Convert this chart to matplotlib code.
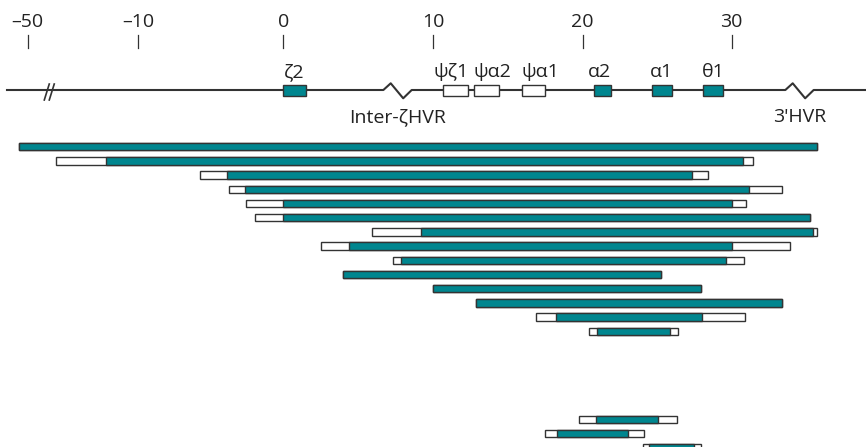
import numpy as np
import matplotlib.pyplot as plt
from matplotlib.scale import FuncScale

plt.rcParams['font.family'] = ['Open Sans', 'DejaVu Sans']

# map scale (kb) with the compressed stretch left of -10
tick_kb = [-50, -10, 0, 10, 20, 30]
tick_labels = ['\u201350', '\u201310', '0', '10', '20', '30']

genes = ['\u03b62', '\u03c8\u03b61', '\u03c8\u03b12', '\u03c8\u03b11', '\u03b12', '\u03b11', '\u03b81']
gene_start = [0.0, 10.67, 12.72, 15.92, 20.76, 24.62, 28.06]
gene_end = [1.51, 12.34, 14.42, 17.46, 21.88, 25.97, 29.40]
gene_functional = [True, False, False, False, True, True, True]
gene_label_align = ['center', 'right', 'left', 'left', 'right', 'center', 'center']

hvr_names = ['Inter-\u03b6HVR', "3'HVR"]
hvr_start = [6.67, 33.60]
hvr_end = [8.56, 35.50]

break_kb = -42.0

# deletions: outer left, inner left, inner right, outer right (kb)
# white = breakpoint region, teal = deleted for sure
outer_left = [-53.1, -39.8, -5.74, -3.77, -2.57, -1.93, 5.89, 2.49, 7.29, 4.0, 10.0, 12.86, 16.85, 20.42]
inner_left = [-53.1, -21.7, -3.88, -2.66, 0.0, 0.0, 9.18, 4.36, 7.83, 4.0, 10.0, 12.86, 18.19, 20.98]
inner_right = [35.7, 30.74, 27.34, 31.16, 30.02, 35.27, 35.46, 30.04, 29.64, 25.26, 27.95, 33.40, 28.03, 25.88]
outer_right = [35.7, 31.45, 28.39, 33.40, 30.98, 35.27, 35.70, 33.93, 30.81, 25.26, 27.95, 33.40, 30.89, 26.42]

low_outer_left = [19.75, 17.50, 24.06]
low_inner_left = [20.91, 18.31, 24.46]
low_inner_right = [25.05, 23.04, 27.48]
low_outer_right = [26.33, 24.11, 27.93]

TEAL = '#00868f'
EDGE = '#333333'
TXT = '#222222'
FS = 14

# piecewise map: kb -> pixel column
anc_kb = np.array([-100, -50, -10, 0, 10, 20, 30, 100])
anc_px = np.array([-110.55, 27.7, 138.3, 283.3, 433.3, 582.7, 731.7, 1774.7])


def fwd(x):
    return np.interp(x, anc_kb, anc_px)


def inv(p):
    return np.interp(p, anc_px, anc_kb)


fig = plt.figure(figsize=(8.66, 4.47), dpi=100)
ax = fig.add_axes([0, 0, 1, 1])
ax.set_xscale(FuncScale(ax.xaxis, (fwd, inv)))
ax.set_xlim(inv(0), inv(866))
ax.set_ylim(447, 0)
ax.axis('off')

# ticks
for k, lab in zip(tick_kb, tick_labels):
    ax.plot([k, k], [35, 48], color=EDGE, lw=0.9)
    ax.text(k, 22, lab, ha='center', va='center', fontsize=FS, color=TXT)

# main line with HVR zigzags
line_y = 90
xs = [inv(7)]
ys = [line_y]
for s, e in zip(hvr_start, hvr_end):
    w = e - s
    xs += [s, s + 0.26 * w, s + 0.7 * w, e]
    ys += [line_y, line_y - 6.7, line_y + 8.3, line_y]
xs.append(inv(866))
ys.append(line_y)
ax.plot(xs, ys, color=EDGE, lw=1.5, zorder=2)

# // break
for d in (-1.0, 0.8):
    ax.plot([break_kb + d - 1.0, break_kb + d + 0.8], [100, 84], color=EDGE, lw=1.2, zorder=3)

for name, s, e in zip(hvr_names, hvr_start, hvr_end):
    ax.text((s + e) / 2, 117, name, ha='center', va='center', fontsize=FS, color=TXT)

# genes
for g, s, e, f, al in zip(genes, gene_start, gene_end, gene_functional, gene_label_align):
    ax.barh(90.5, e - s, left=s, height=10.5, color=TEAL if f else 'white',
            edgecolor=EDGE, linewidth=1.0, zorder=4)
    tx = {'center': (s + e) / 2, 'left': s, 'right': e}[al]
    ax.text(tx, 72, g, ha=al, va='center', fontsize=FS, color=TXT)


def draw_rows(y0, ol, il, ir, orr):
    for i in range(len(ol)):
        y = y0 + 14.2 * i
        ax.barh(y, orr[i] - ol[i], left=ol[i], height=7.3, color='white',
                edgecolor=EDGE, linewidth=1.0, zorder=3)
        ax.barh(y, ir[i] - il[i], left=il[i], height=7.3, color=TEAL,
                edgecolor=EDGE, linewidth=1.0, zorder=4)


draw_rows(146.7, outer_left, inner_left, inner_right, outer_right)
draw_rows(146.7 + 14.2 * 19.2, low_outer_left, low_inner_left, low_inner_right, low_outer_right)

fig.savefig('out.png', dpi=100)
